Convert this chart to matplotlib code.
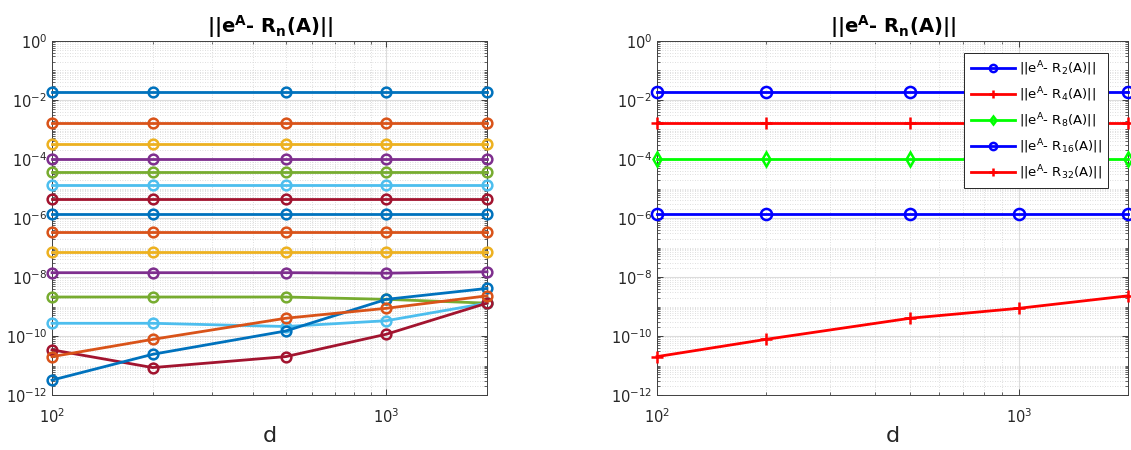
import numpy as np
import matplotlib.pyplot as plt
from matplotlib.ticker import LogLocator, NullFormatter

# 数据
d = [100, 200, 500, 1000, 2000]
n_all = list(range(2, 33, 2))

err_left = [
    [1.9e-2, 1.9e-2, 1.9e-2, 1.9e-2, 1.9e-2],
    [1.66e-3, 1.66e-3, 1.66e-3, 1.66e-3, 1.66e-3],
    [3.2e-4, 3.2e-4, 3.2e-4, 3.2e-4, 3.2e-4],
    [1.0e-4, 1.0e-4, 1.0e-4, 1.0e-4, 1.0e-4],
    [3.6e-5, 3.6e-5, 3.6e-5, 3.6e-5, 3.6e-5],
    [1.3e-5, 1.3e-5, 1.3e-5, 1.3e-5, 1.3e-5],
    [4.4e-6, 4.4e-6, 4.4e-6, 4.4e-6, 4.4e-6],
    [1.4e-6, 1.4e-6, 1.4e-6, 1.4e-6, 1.4e-6],
    [3.4e-7, 3.4e-7, 3.4e-7, 3.4e-7, 3.4e-7],
    [7.0e-8, 7.0e-8, 7.0e-8, 7.0e-8, 7.0e-8],
    [1.4e-8, 1.4e-8, 1.4e-8, 1.35e-8, 1.5e-8],
    [2.1e-9, 2.1e-9, 2.1e-9, 1.75e-9, 1.3e-9],
    [2.7e-10, 2.7e-10, 2.1e-10, 3.3e-10, 1.3e-9],
    [3.4e-11, 8.5e-12, 2.0e-11, 1.15e-10, 1.3e-9],
    [3.2e-12, 2.4e-11, 1.48e-10, 1.75e-9, 4.1e-9],
    [2.0e-11, 7.7e-11, 4.0e-10, 8.7e-10, 2.3e-9],
]

n_right = [2, 4, 8, 16, 32]
right_colors = ['#0000ff', '#ff0000', '#00ff00', '#0000ff', '#ff0000']
right_markers = ['o', '+', 'd', 'o', '+']
right_ms = [8, 9, 7, 8, 9]

matlab_colors = ['#0072BD', '#D95319', '#EDB120', '#7E2F8E',
                 '#77AC30', '#4DBEEE', '#A2142F']

plt.rcParams['font.family'] = 'DejaVu Sans'
fig = plt.figure(figsize=(11.31, 4.5), dpi=100)
ax1 = fig.add_axes([0.046, 0.1222, 0.3846, 0.7867])
ax2 = fig.add_axes([0.5809, 0.1222, 0.4164, 0.7867])

title = '||e$^{\\mathbf{A}}$- R$_{\\mathbf{n}}$(A)||'


def style(ax):
    ax.set_xscale('log')
    ax.set_yscale('log')
    ax.set_xlim(100, 2000)
    ax.set_ylim(1e-12, 1)
    ax.set_yticks([10.0 ** k for k in range(-12, 1, 2)])
    ax.set_yticklabels(['10$^{%d}$' % k for k in range(-12, 1, 2)])
    ax.yaxis.set_minor_locator(LogLocator(base=10, subs=np.arange(1, 10) * 1.0, numticks=200))
    ax.yaxis.set_minor_formatter(NullFormatter())
    ax.set_xticks([100, 1000])
    ax.set_xticklabels(['10$^{2}$', '10$^{3}$'])
    ax.xaxis.set_minor_locator(LogLocator(base=10, subs=np.arange(2, 10) * 1.0, numticks=50))
    ax.xaxis.set_minor_formatter(NullFormatter())
    ax.tick_params(which='both', direction='in', labelsize=10.5,
                   colors='#262626', labelcolor='#262626', top=True, right=True)
    ax.tick_params(axis='x', which='major', pad=9)
    ax.tick_params(which='major', length=4, width=0.6)
    ax.tick_params(which='minor', length=2, width=0.5)
    ax.grid(True, which='major', color='#dcdcdc', lw=0.8, ls='-')
    ax.grid(True, which='minor', color='#d4d4d4', lw=0.6, ls=(0, (1, 2)))
    for s in ax.spines.values():
        s.set_color('#404040')
        s.set_linewidth(0.7)
    ax.set_axisbelow(True)
    ax.set_title(title, fontsize=14, fontweight='bold', pad=6)
    ax.set_xlabel('d', fontsize=16, color='#262626', labelpad=0)


for i, vals in enumerate(err_left):
    ax1.plot(d, vals, '-o', color=matlab_colors[i % 7], lw=2,
             ms=7, mfc='none', mew=1.8, clip_on=False, zorder=3)
style(ax1)

for j, n in enumerate(n_right):
    vals = err_left[n_all.index(n)]
    ax2.plot(d, vals, '-', marker=right_markers[j], color=right_colors[j],
             lw=2, ms=right_ms[j], mfc='none', mew=1.8, clip_on=False, zorder=3,
             label='||e$^{\\mathrm{A}}$- R$_{%d}$(A)||' % n)
style(ax2)
leg = ax2.legend(loc='upper right', bbox_to_anchor=(0.958, 0.966),
                 borderaxespad=0, fontsize=9.5, fancybox=False, framealpha=1,
                 edgecolor='#262626', handlelength=3.3, markerscale=0.65,
                 borderpad=0.5, labelspacing=0.55, handletextpad=0.3)
leg.get_frame().set_linewidth(0.7)
leg.set_zorder(5)

fig.savefig('out.png', dpi=100)
